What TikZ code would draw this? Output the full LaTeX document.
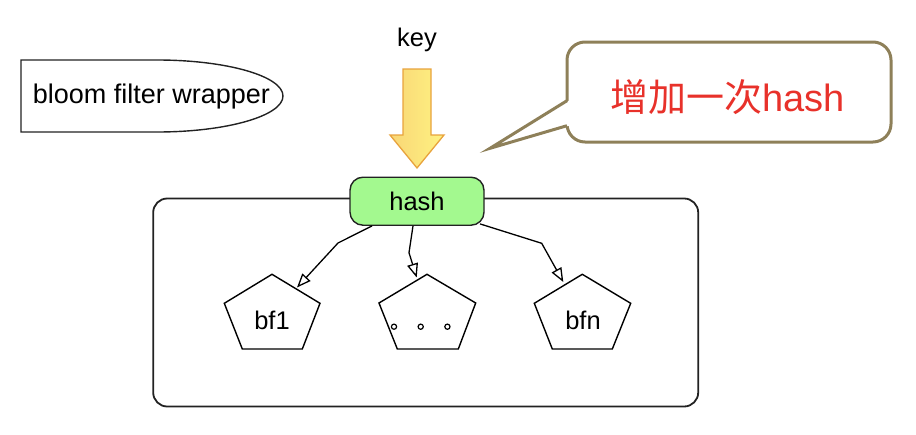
\documentclass[tikz,border=0pt]{standalone}
\usepackage{fontspec}
\setmainfont{Liberation Sans}
\newfontfamily\cjk{Noto Sans CJK SC}
\usetikzlibrary{arrows.meta}
\definecolor{hashgreen}{HTML}{A3F98F}
\definecolor{olivec}{HTML}{8E8059}
\definecolor{redtext}{HTML}{E8312A}
\definecolor{arrowborder}{HTML}{E8A33D}
\definecolor{yelL}{HTML}{F8D676}
\definecolor{yelR}{HTML}{FFF282}
\definecolor{darkline}{HTML}{222222}
\tikzset{
  lbl/.style={font=\fontsize{25.5}{30}\selectfont, inner sep=0pt},
  pent/.style={draw=black, line width=1.4pt, line join=miter},
  conn/.style={draw=black, line width=1.3pt, -{Triangle[open, length=14pt, width=11pt]}},
}
\begin{document}
\begin{tikzpicture}[x=1pt,y=-1pt]
\useasboundingbox (0,0) rectangle (916,434);
% wrapper shape
\draw[line width=1.4pt, darkline] (157,132) -- (21,132) -- (21,60) -- (157,60)
  arc[start angle=-90, end angle=90, x radius=126, y radius=36];
\node[inner sep=0pt, font=\fontsize{27}{32}\selectfont] (wrap) at (151.5,97) {bloom filter wrapper};
% key
\node[lbl] (key) at (417,40) {key};
% yellow arrow
\shade[left color=yelL, right color=yelR, draw=arrowborder, line width=1.3pt, line join=miter]
  (403,69) -- (431,69) -- (431,135) -- (444,135) -- (417,168) -- (390,135) -- (403,135) -- cycle;
% callout
\node[draw=olivec, line width=3pt, fill=white, rounded corners=18pt,
  minimum width=324pt, minimum height=100pt, inner sep=0pt] (call) at (729,92) {};
\fill[white] (490,148.3) -- (569,125.7) -- (569,100.7) -- cycle;
\draw[olivec, line width=3pt, line join=miter] (567,100.7) -- (490,148.3) -- (567,125.7);
\node[inner sep=0pt, text=redtext, font=\fontsize{38}{44}\selectfont] (calltext) at (727.5,97) {{\cjk 增加一次}hash};
% main box
\node[draw=darkline, line width=1.8pt, rounded corners=14pt,
  minimum width=545pt, minimum height=208pt, inner sep=0pt] (box) at (425.7,302.5) {};
% hash node
\node[draw=darkline, line width=1.4pt, fill=hashgreen, rounded corners=13pt,
  minimum width=134pt, minimum height=48pt, inner sep=0pt, font=\fontsize{25.5}{30}\selectfont] (hash) at (417,201.2) {hash};
% pentagons
\draw[pent] (272,274.3) -- (320,303.3) -- (302.3,349) -- (242.3,349) -- (224.3,303.3) -- cycle;
\node[lbl] (bf1) at (272,320) {bf1};
\coordinate (bf1tip) at (297,287.5);
\draw[pent] (427,274.3) -- (475.7,303) -- (458.3,349) -- (397.3,349) -- (379,303) -- cycle;
\coordinate (dots) at (420.7,326.7);
\foreach \dx in {-26.7,0,26.7}
  \draw[line width=1.2pt] ([xshift=\dx pt]dots) circle[radius=2.6pt];
\coordinate (dotstip) at (416.7,277.5);
\draw[pent] (582.3,274.3) -- (630.7,303.3) -- (612.3,349) -- (552.3,349) -- (534.3,303.3) -- cycle;
\node[lbl] (bfn) at (583,320) {bfn};
\coordinate (bfntip) at (563.3,282);
% connectors
\draw[conn] ([xshift=-45pt]hash.south) -- (338,243) -- (bf1tip);
\draw[conn] ([xshift=-4pt]hash.south) -- (409,252.7) -- (dotstip);
\draw[conn] ([xshift=63pt,yshift=2pt]hash.south) -- (541.7,243.3) -- (bfntip);
\end{tikzpicture}
\end{document}
